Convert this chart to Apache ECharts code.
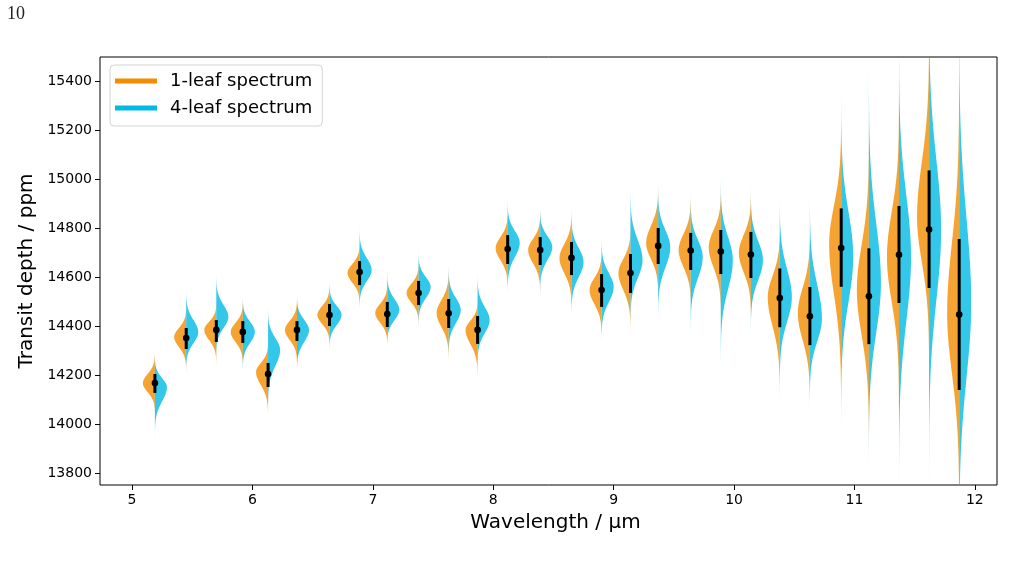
<!DOCTYPE html>
<html>
<head>
<meta charset="utf-8">
<script src="https://cdn.jsdelivr.net/npm/echarts@6/dist/echarts.min.js"></script>
<style>
  html, body { margin: 0; background: #fff; }
  #chart { width: 1020px; height: 571px; }
</style>
</head>
<body>
<div id="chart"></div>
<script>
  // wavelength bin centres (µm)
  const wavelength = [5.19, 5.45, 5.70, 5.92, 6.13, 6.37, 6.64, 6.89, 7.12, 7.38, 7.63, 7.87, 8.12, 8.39,
    8.65, 8.90, 9.14, 9.37, 9.64, 9.89, 10.14, 10.38, 10.63, 10.89, 11.12, 11.37, 11.62, 11.87]
  // median + error bar ends (ppm)
  const median = [14167, 14351, 14384, 14376, 14204, 14384, 14445, 14620, 14449, 14535, 14452, 14384, 14714, 14710,
    14678, 14547, 14616, 14727, 14708, 14704, 14692, 14514, 14440, 14718, 14521, 14691, 14794, 14447]
  const errHigh = [14204, 14392, 14424, 14420, 14249, 14420, 14490, 14665, 14498, 14584, 14510, 14441, 14771, 14763,
    14743, 14612, 14694, 14800, 14780, 14792, 14784, 14635, 14559, 14880, 14717, 14890, 15035, 14755]
  const errLow = [14127, 14306, 14335, 14331, 14151, 14339, 14400, 14567, 14396, 14486, 14392, 14327, 14653, 14649,
    14608, 14478, 14535, 14653, 14629, 14612, 14596, 14395, 14322, 14560, 14326, 14494, 14555, 14139]
  // 1-leaf half: peak, spread above, spread below (ppm)
  const peak1 = [14167, 14355, 14384, 14376, 14212, 14384, 14445, 14616, 14453, 14535, 14453, 14384, 14718, 14710,
    14677, 14547, 14616, 14739, 14710, 14722, 14698, 14518, 14453, 14735, 14547, 14682, 14845, 14453]
  const up1 = [37, 37, 33, 37, 37, 37, 37, 37, 37, 37, 53, 37, 45, 45, 57, 49, 57, 69, 65, 69, 73, 86, 102, 155, 184, 184, 224, 286]
  const down1 = [37, 41, 41, 41, 53, 41, 37, 39, 39, 39, 57, 57, 49, 53, 61, 57, 69, 65, 69, 82, 78, 118, 110, 204, 184, 184, 184, 245]
  // 4-leaf half
  const peak4 = [14150, 14375, 14437, 14376, 14302, 14384, 14445, 14628, 14465, 14559, 14465, 14424, 14739, 14722,
    14661, 14559, 14669, 14722, 14682, 14669, 14669, 14518, 14430, 14682, 14575, 14682, 14792, 14494]
  const up4 = [37, 49, 49, 41, 49, 41, 37, 49, 45, 41, 49, 53, 49, 45, 57, 57, 82, 69, 69, 94, 78, 114, 139, 184, 245, 253, 286, 347]
  const down4 = [57, 45, 45, 45, 65, 49, 41, 45, 41, 45, 53, 53, 57, 53, 61, 61, 73, 82, 86, 118, 82, 102, 94, 184, 204, 265, 286, 306]

  const xTicks = [5, 6, 7, 8, 9, 10, 11, 12]
  const yTicks = [13800, 14000, 14200, 14400, 14600, 14800, 15000, 15200, 15400]

  const halfWidth = 0.1 // µm, widest point of each half
  const font = 'DejaVu Sans'

  const chart = echarts.init(document.getElementById('chart'), null, { renderer: 'canvas' })

  function halfViolin (side, fill) {
    return function (params, api) {
      const x0 = api.value(0)
      const pk = api.value(1)
      const sUp = api.value(2)
      const sDown = api.value(3)
      const pts = []
      const n = 80
      for (let k = 0; k <= n; k++) {
        const z = 4 - 8 * k / n
        const y = pk + z * (z > 0 ? sUp : sDown)
        const w = halfWidth * Math.exp(-0.5 * z * z)
        pts.push(api.coord([x0 + side * w, y]))
      }
      pts.push(api.coord([x0, pk - 4 * sDown]))
      pts.push(api.coord([x0, pk + 4 * sUp]))
      return { type: 'polygon', shape: { points: pts }, style: { fill: fill } }
    }
  }

  function errorBar (params, api) {
    const top = api.coord([api.value(0), api.value(3)])
    const bot = api.coord([api.value(0), api.value(2)])
    const mid = api.coord([api.value(0), api.value(1)])
    return {
      type: 'group',
      children: [
        { type: 'line', shape: { x1: top[0], y1: top[1], x2: bot[0], y2: bot[1] }, style: { stroke: '#000', lineWidth: 3 } },
        { type: 'circle', shape: { cx: mid[0], cy: mid[1], r: 3.3 }, style: { fill: '#000' } }
      ]
    }
  }

  const data1 = wavelength.map((w, i) => [w, peak1[i], up1[i], down1[i]])
  const data4 = wavelength.map((w, i) => [w, peak4[i], up4[i], down4[i]])
  const dataErr = wavelength.map((w, i) => [w, median[i], errLow[i], errHigh[i]])

  const option = {
    backgroundColor: '#fff',
    animation: false,
    graphic: [
      { type: 'text', left: 7, top: 5, style: { text: '10', font: '18px "Liberation Serif"', fill: '#222' } }
    ],
    grid: {
      left: 100, right: 23, top: 57, bottom: 86,
      show: true, borderColor: '#000', borderWidth: 1, backgroundColor: 'transparent'
    },
    legend: {
      left: 110, top: 65, orient: 'vertical',
      padding: [7, 10, 9, 5],
      itemWidth: 42, itemHeight: 5, itemGap: 9,
      backgroundColor: '#fff', borderColor: '#d4d4d4', borderWidth: 1, borderRadius: 4,
      textStyle: { fontSize: 18, color: '#000', fontFamily: font, padding: [0, 0, 0, 8] },
      data: [{ name: '1-leaf spectrum', icon: 'rect' }, { name: '4-leaf spectrum', icon: 'rect' }]
    },
    xAxis: {
      type: 'value', min: 4.734, max: 12.184,
      name: 'Wavelength / µm', nameLocation: 'middle', nameGap: 28,
      nameTextStyle: { fontSize: 20, color: '#000', fontFamily: font, padding: [0, 0, 0, 14] },
      axisLine: { show: false },
      axisTick: { show: true, length: 5, customValues: xTicks, lineStyle: { color: '#000' } },
      axisLabel: { customValues: xTicks, fontSize: 14, color: '#000', fontFamily: font, margin: 8 },
      splitLine: { show: false }
    },
    yAxis: {
      type: 'value', min: 13751, max: 15498,
      name: 'Transit depth / ppm', nameLocation: 'middle', nameGap: 52,
      nameTextStyle: { fontSize: 20, color: '#000', fontFamily: font },
      axisLine: { show: false },
      axisTick: { show: true, length: 5, customValues: yTicks, lineStyle: { color: '#000' } },
      axisLabel: { customValues: yTicks, fontSize: 14, color: '#000', fontFamily: font, margin: 8,
        formatter: v => String(v) },
      splitLine: { show: false }
    },
    series: [
      {
        name: '1-leaf spectrum', type: 'custom', clip: true,
        itemStyle: { color: '#f28c00' },
        renderItem: halfViolin(-1, 'rgba(242,140,0,0.8)'),
        data: data1
      },
      {
        name: '4-leaf spectrum', type: 'custom', clip: true,
        itemStyle: { color: '#00b9e5' },
        renderItem: halfViolin(1, 'rgba(0,185,229,0.8)'),
        data: data4
      },
      {
        name: 'median', type: 'custom', clip: true,
        renderItem: errorBar,
        data: dataErr
      }
    ]
  }
  chart.setOption(option)
</script>
</body>
</html>
